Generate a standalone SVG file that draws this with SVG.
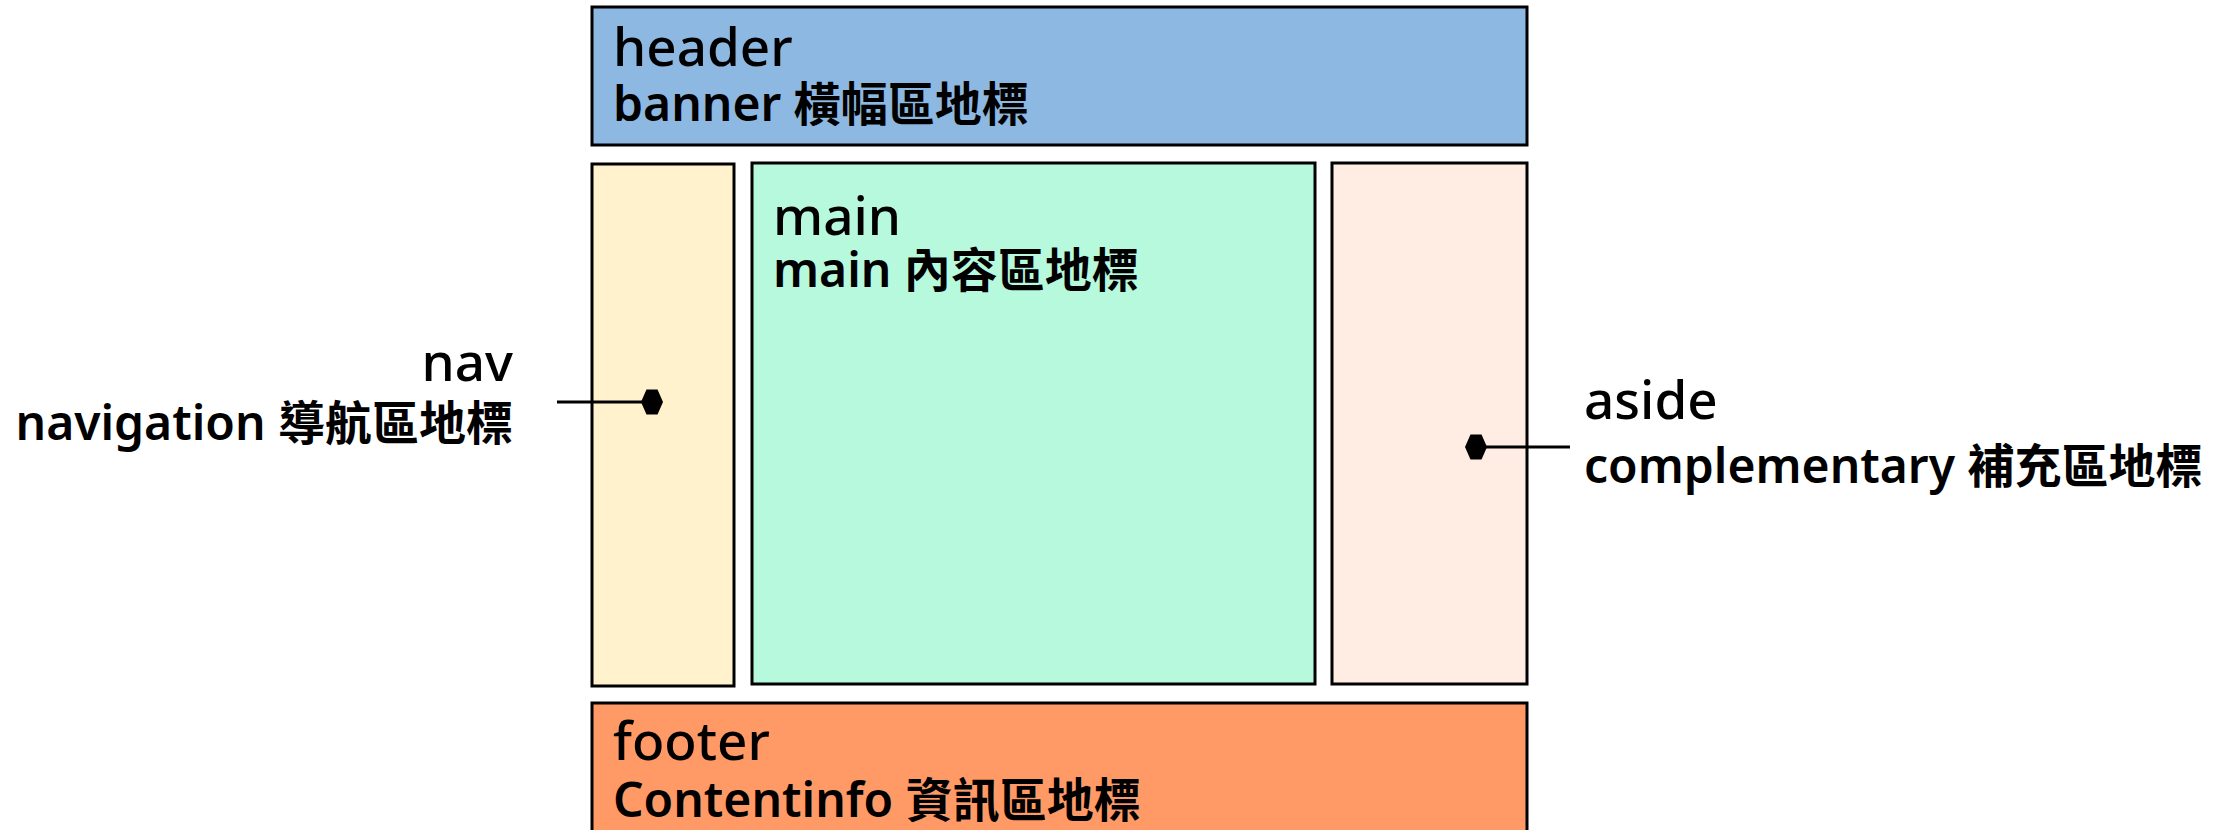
<svg xmlns="http://www.w3.org/2000/svg" width="2227" height="830" viewBox="0 0 2227 830">
<style>
  .box { stroke: #000; stroke-width: 3; }
  .t1 { font-family: "Noto Sans", "Noto Sans CJK TC", sans-serif; font-size: 53px; font-weight: 500; fill: #000; }
  .t2 { font-family: "Noto Sans", "Noto Sans CJK TC", sans-serif; font-size: 48px; font-weight: 600; fill: #000; }
  .cjk { font-family: "Noto Sans CJK TC", sans-serif; font-size: 47px; font-weight: 600; }
  .conn { stroke: #000; stroke-width: 3; fill: none; }
</style>
<defs>
  <marker id="hex" markerUnits="userSpaceOnUse" markerWidth="24" markerHeight="28" refX="12" refY="14" orient="auto" viewBox="0 0 24 28">
    <polygon points="1,14 6.5,1.5 17.5,1.5 23,14 17.5,26.5 6.5,26.5" fill="#000"/>
  </marker>
</defs>
<rect width="2227" height="830" fill="#fff"/>
<g id="header">
  <rect class="box" x="592" y="7" width="935" height="138" fill="#8DB8E2"/>
  <text class="t1" x="613" y="66">header</text>
  <text class="t2" x="613" y="121">banner <tspan class="cjk">橫幅區地標</tspan></text>
</g>
<g id="nav">
  <rect class="box" x="592" y="164" width="142" height="522" fill="#FFF2CC"/>
  <text class="t1" x="513" y="381" text-anchor="end">nav</text>
  <text class="t2" x="513" y="440" text-anchor="end">navigation <tspan class="cjk">導航區地標</tspan></text>
</g>
<g id="main">
  <rect class="box" x="752" y="163" width="563" height="521" fill="#B6F9DD"/>
  <text class="t1" x="773" y="235">main</text>
  <text class="t2" x="773" y="287">main <tspan class="cjk">內容區地標</tspan></text>
</g>
<g id="aside">
  <rect class="box" x="1332" y="163" width="195" height="521" fill="#FFEDE4"/>
  <text class="t1" x="1584" y="419">aside</text>
  <text class="t2" x="1584" y="483">complementary <tspan class="cjk">補充區地標</tspan></text>
</g>
<g id="footer">
  <rect class="box" x="592" y="703" width="935" height="200" fill="#FF9A66"/>
  <text class="t1" x="613" y="760">footer</text>
  <text class="t2" x="613" y="817">Contentinfo <tspan class="cjk">資訊區地標</tspan></text>
</g>
<g id="connectors">
  <line class="conn" x1="557" y1="402" x2="652" y2="402" marker-end="url(#hex)"/>
  <line class="conn" x1="1570" y1="447" x2="1476" y2="447" marker-end="url(#hex)"/>
</g>
</svg>
